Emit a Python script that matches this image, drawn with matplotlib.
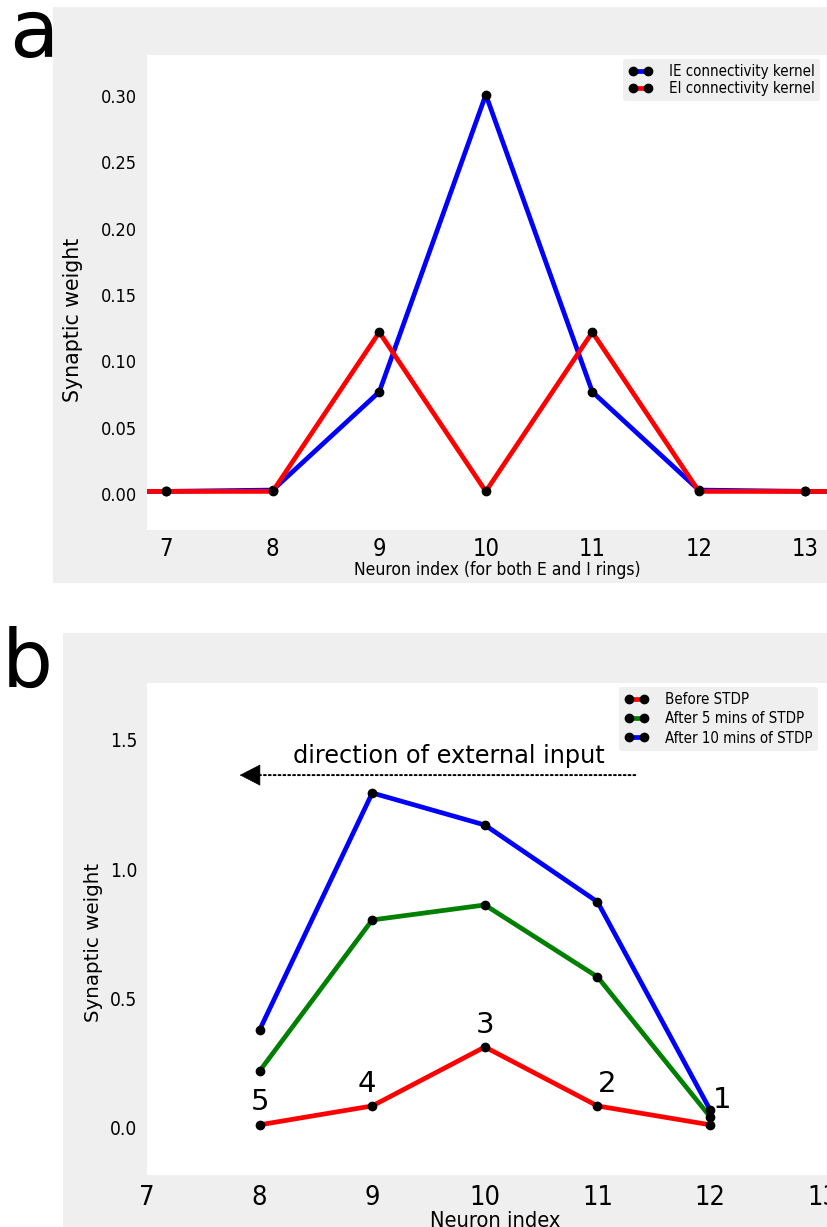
import matplotlib
matplotlib.use("Agg")
import matplotlib.pyplot as plt
from matplotlib.patches import Rectangle
import numpy as np

# ---------------- data ----------------
neuron_a = [6, 7, 8, 9, 10, 11, 12, 13, 14]
ie_kernel = [0.002, 0.002, 0.003, 0.077, 0.301, 0.077, 0.003, 0.002, 0.002]
ei_kernel = [0.002, 0.002, 0.002, 0.122, 0.002, 0.122, 0.002, 0.002, 0.002]

neuron_b = [8, 9, 10, 11, 12]
before_stdp = [0.012, 0.085, 0.313, 0.085, 0.012]
after_5 = [0.22, 0.804, 0.862, 0.584, 0.043]
after_10 = [0.379, 1.295, 1.171, 0.874, 0.07]
order_labels = ["5", "4", "3", "2", "1"]

xticks_a = [7, 8, 9, 10, 11, 12, 13]
yticks_a = [0.00, 0.05, 0.10, 0.15, 0.20, 0.25, 0.30]
xticks_b = [7, 8, 9, 10, 11, 12, 13]
yticks_b = [0.0, 0.5, 1.0, 1.5]

W, H = 827, 1227
fig = plt.figure(figsize=(W / 100, H / 100), dpi=100, facecolor="white")

GREY = "#efefef"
COND = dict(family="DejaVu Sans", stretch="condensed")

def px_rect(x0, y0, x1, y1):
    return [x0 / W, 1 - y1 / H, (x1 - x0) / W, (y1 - y0) / H]

# grey panels
for (x0, y0, x1, y1) in [(53, 7, 827, 583), (63, 633, 827, 1227)]:
    r = px_rect(x0, y0, x1, y1)
    fig.patches.append(Rectangle((r[0], r[1]), r[2], r[3], transform=fig.transFigure,
                                 facecolor=GREY, edgecolor="none", zorder=-10))

def style_axes(ax):
    ax.set_facecolor("white")
    for s in ax.spines.values():
        s.set_visible(False)
    ax.tick_params(length=0)

def style_legend(leg):
    fr = leg.get_frame()
    fr.set_facecolor(GREY)
    fr.set_edgecolor("none")
    fr.set_alpha(1)

LW, MS = 3.4, 6

# ---------------- panel a ----------------
axa = fig.add_axes(px_rect(147, 55, 847, 530))
style_axes(axa)
axa.plot(neuron_a, ie_kernel, "-o", color="blue", lw=LW, mfc="black", mec="black", ms=MS,
         label="IE connectivity kernel")
axa.plot(neuron_a, ei_kernel, "-o", color="red", lw=LW, mfc="black", mec="black", ms=MS,
         label="EI connectivity kernel")
axa.set_xlim(6.82, 13.39)
axa.set_ylim(-0.0271, 0.3309)
axa.set_xticks(xticks_a)
axa.set_xticklabels([str(t) for t in xticks_a], fontsize=17, **COND)
axa.set_yticks(yticks_a)
axa.set_yticklabels([f"{t:.2f}" for t in yticks_a], fontsize=13, **COND)
axa.tick_params(axis="x", pad=5)
axa.tick_params(axis="y", pad=7)
axa.set_xlabel("Neuron index (for both E and I rings)", fontsize=12.5, labelpad=0, **COND)
axa.set_ylabel("Synaptic weight", fontsize=14.8)
axa.yaxis.set_label_coords(-0.0914, 0.442)
leg = axa.legend(loc="upper right", bbox_to_anchor=(820 / W, 1 - 59 / H),
                 bbox_transform=fig.transFigure, borderaxespad=0,
                 prop=dict(size=10.8, **COND), numpoints=2, frameon=True, fancybox=True,
                 handlelength=1.6, handletextpad=1.1, labelspacing=0.1, borderpad=0.35)
style_legend(leg)

# ---------------- panel b ----------------
axb = fig.add_axes(px_rect(147, 683, 843, 1175))
style_axes(axb)
axb.plot(neuron_b, before_stdp, "-o", color="red", lw=LW, mfc="black", mec="black", ms=MS,
         label="Before STDP")
axb.plot(neuron_b, after_5, "-o", color="green", lw=LW, mfc="black", mec="black", ms=MS,
         label="After 5 mins of STDP")
axb.plot(neuron_b, after_10, "-o", color="blue", lw=LW, mfc="black", mec="black", ms=MS,
         label="After 10 mins of STDP")
axb.set_xlim(7.018, 13.18)
axb.set_ylim(-0.182, 1.72)
axb.set_xticks(xticks_b)
axb.set_xticklabels([str(t) for t in xticks_b], fontsize=19.5, **COND)
axb.set_yticks(yticks_b)
axb.set_yticklabels([f"{t:.1f}" for t in yticks_b], fontsize=13.8, **COND)
axb.tick_params(axis="x", pad=7)
axb.tick_params(axis="y", pad=7)
axb.set_xlabel("Neuron index", fontsize=15.7, labelpad=0, **COND)
axb.set_ylabel("Synaptic weight", fontsize=14.3)
axb.yaxis.set_label_coords(-0.063, 0.472)
leg = axb.legend(loc="upper right", bbox_to_anchor=(818 / W, 1 - 687 / H),
                 bbox_transform=fig.transFigure, borderaxespad=0,
                 prop=dict(size=10.8, **COND), numpoints=2, frameon=True, fancybox=True,
                 handlelength=1.6, handletextpad=1.1, labelspacing=0.28, borderpad=0.35)
style_legend(leg)

offsets = [(0, 6), (-4, 6), (0, 6), (7, 6), (9, 8)]
for xv, yv, lab, off in zip(neuron_b, before_stdp, order_labels, offsets):
    axb.annotate(lab, (xv, yv), xytext=off, textcoords="offset points",
                 ha="center", va="bottom", fontsize=21)

# arrow: dotted shaft + solid head
arrow_y = 1.364
axb.annotate("", xy=(7.99, arrow_y), xytext=(11.336, arrow_y),
             arrowprops=dict(arrowstyle="-", linestyle=(0, (1, 1.5)), lw=1.4,
                             color="black", shrinkA=0, shrinkB=0))
axb.annotate("", xy=(7.823, arrow_y), xytext=(8.0, arrow_y),
             arrowprops=dict(arrowstyle="-|>,head_length=1.4,head_width=0.72", lw=0.5,
                             color="black", shrinkA=0, shrinkB=0, mutation_scale=10))
axb.text(9.68, 1.411, "direction of external input", ha="center", va="baseline",
         fontsize=17.3)

# panel letters
fig.text(9 / W, 1 - 57 / H, "a", fontsize=58, va="baseline", ha="left")
fig.text(2 / W, 1 - 687 / H, "b", fontsize=58, va="baseline", ha="left")

fig.savefig("out.png", dpi=100, facecolor="white")
